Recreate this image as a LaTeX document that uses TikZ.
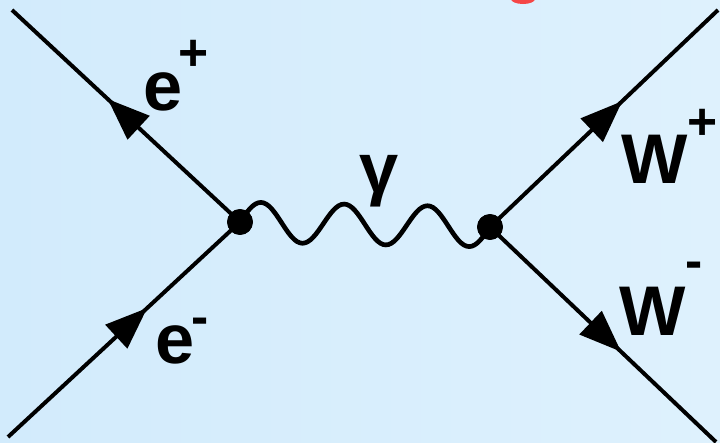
\documentclass[tikz,border=0pt]{standalone}
\usepackage{fontspec}
\setmainfont{Liberation Sans}
\usetikzlibrary{decorations.markings,arrows.meta}
\begin{document}
\begin{tikzpicture}[x=0.03cm,y=-0.03cm,
  fermion/.style={line width=3.4pt,
    postaction={decorate,decoration={markings,
      mark=at position #1 with {\arrow{Triangle[length=36pt,width=27pt]}}}}},
  photon/.style={line width=4pt},
  vtx/.style={circle,fill=black,inner sep=0pt,minimum size=22pt},
  lbl/.style={inner sep=0pt,font=\fontsize{60}{60}\selectfont\bfseries}]
\useasboundingbox (0,0) rectangle (720,442);
\clip (0,0) rectangle (720,442);
\shade[left color={rgb,255:red,210;green,235;blue,252},right color={rgb,255:red,222;green,241;blue,253}] (0,0) rectangle (720,442);
\fill[color={rgb,255:red,245;green,70;blue,70}] (523,-1) ellipse [x radius=12, y radius=5];
% coordinates
\coordinate (a) at (12,10);
\coordinate (b) at (8,437);
\coordinate (c) at (718,10);
\coordinate (d) at (716,442);
\node[vtx] (v1) at (240,222) {};
\node[vtx] (v2) at (490,227) {};
% lines
\draw[fermion=0.58] (v1.center) -- (a);
\draw[fermion=0.6] (b) -- (v1.center);
\draw[fermion=0.58] (v2.center) -- (c);
\draw[fermion=0.58] (v2.center) -- (d);
\draw[photon] (v1.center)
  \foreach \k in {1,2,3} {
    sin ++(20.833,-19.583) cos ++(20.833,20.417)
    sin ++(20.833,20.417) cos ++(20.833,-19.583)
  };
\node[vtx] at (v1) {};
\node[vtx] at (v2) {};
% labels
\node[lbl,anchor=base west] (ep) at (143,110) {e\kern-3pt\raisebox{34pt}{\fontsize{44}{44}\selectfont +}};
\node[lbl,anchor=base west] (em) at (155,363) {e\kern-2pt\raisebox{24pt}{\fontsize{44}{44}\selectfont -}};
\node[lbl] (g) at (379,181) {γ};
\node[lbl,anchor=base west] (wp) at (621,183) {W\raisebox{37pt}{\fontsize{44}{44}\selectfont +}};
\node[lbl,anchor=base west] (wm) at (619,335) {W\raisebox{48pt}{\fontsize{44}{44}\selectfont -}};
\end{tikzpicture}
\end{document}
